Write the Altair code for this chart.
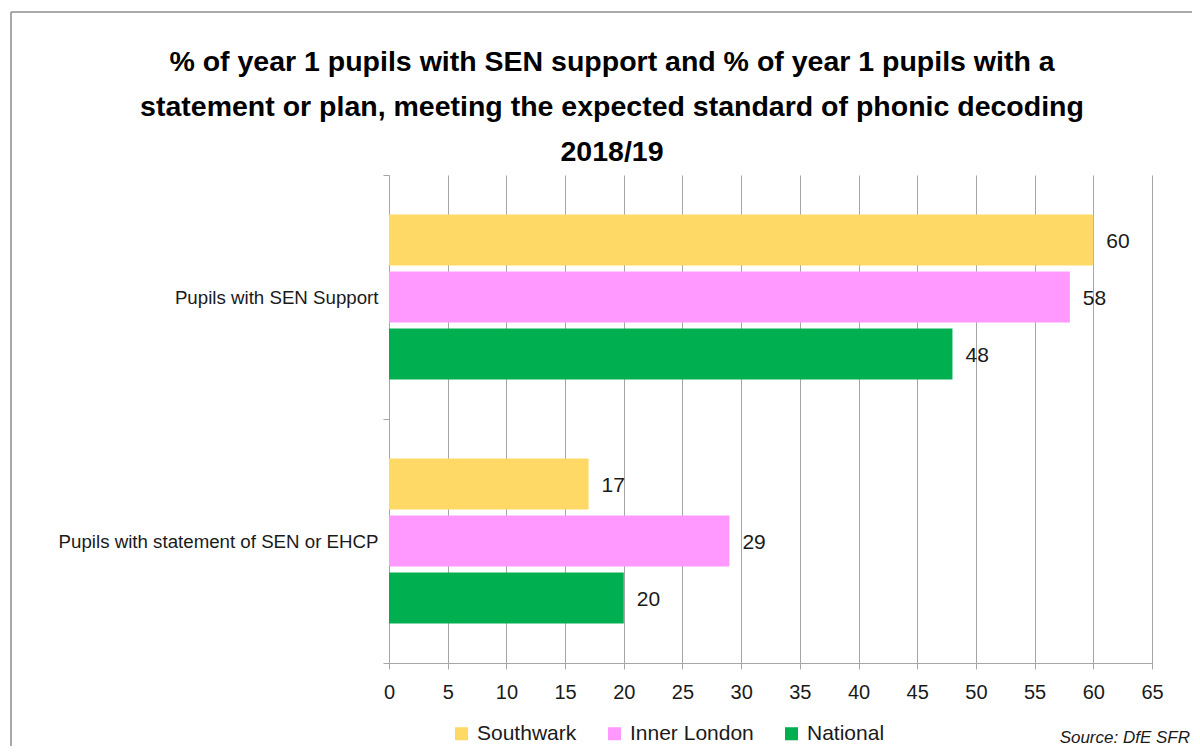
import altair as alt
import pandas as pd

categories = ["Pupils with SEN Support", "Pupils with statement of SEN or EHCP"]
series = ["Southwark", "Inner London", "National"]
southwark = [60, 17]
inner_london = [58, 29]
national = [48, 20]
colors = ["#FFD966", "#FF99FF", "#00B050"]
x_ticks = list(range(0, 70, 5))
title_lines = [
    "% of year 1 pupils with SEN support and % of year 1 pupils with a",
    "statement or plan, meeting the expected standard of phonic decoding",
    "2018/19",
]
source_note = ["Source: DfE SFR"]

rows = []
for i, c in enumerate(categories):
    for s, vals in zip(series, [southwark, inner_london, national]):
        rows.append({"category": c, "series": s, "value": vals[i]})
df = pd.DataFrame(rows)

FONT = "Liberation Sans, Arial, sans-serif"
GRID = "#A6A6A6"
TXT = "#1a1a1a"

y_enc = alt.Y(
    "category:N",
    sort=categories,
    scale=alt.Scale(paddingInner=0, paddingOuter=0),
    axis=alt.Axis(
        title=None, tickBand="extent", tickSize=6, tickColor=GRID, domainColor=GRID,
        labelFontSize=18.7, labelPadding=5, labelColor=TXT, labelFont=FONT, grid=False,
        labelLimit=500,
    ),
)
yoff = alt.YOffset("series:N", sort=series,
                   scale=alt.Scale(paddingInner=0.105, paddingOuter=0.693))
x_enc = alt.X(
    "value:Q",
    scale=alt.Scale(domain=[0, 65], nice=False),
    axis=alt.Axis(
        title=None, values=x_ticks, grid=True, gridColor=GRID, domainColor=GRID,
        tickColor=GRID, tickSize=6, labelFontSize=20, labelPadding=13,
        labelColor=TXT, labelFont=FONT, labelFlush=False,
    ),
)

base = alt.Chart(df)
bars = base.mark_bar().encode(
    y=y_enc, yOffset=yoff, x=x_enc,
    color=alt.Color(
        "series:N", sort=series,
        scale=alt.Scale(domain=series, range=colors),
        legend=alt.Legend(
            title=None, orient="none", legendX=62, legendY=548, direction="horizontal",
            symbolType="square", symbolSize=170, symbolStrokeWidth=0,
            labelFontSize=21, labelFont=FONT, labelColor=TXT, columnPadding=27,
            labelOffset=5,
        ),
    ),
)
labels = base.mark_text(align="left", dx=13, dy=2, fontSize=21, font=FONT, color=TXT).encode(
    y=alt.Y("category:N", sort=categories), yOffset=yoff, x="value:Q",
    text=alt.Text("value:Q"),
)

title = alt.Chart(pd.DataFrame({"t": ["\n".join(title_lines)]})).mark_text(
    align="center", baseline="top", fontSize=28.5, font=FONT, fontWeight="bold",
    color="#000000", lineBreak="\n", lineHeight=45,
).encode(x=alt.value(223), y=alt.value(-127), text="t:N")

src = alt.Chart(pd.DataFrame({"t": source_note})).mark_text(
    align="right", baseline="middle", fontSize=17, font=FONT, fontStyle="italic", color=TXT
).encode(x=alt.value(801), y=alt.value(563), text="t:N")

frame_v = alt.Chart(pd.DataFrame({"t": source_note})).mark_rule(color="#8c8c8c", strokeWidth=1.5).encode(
    x=alt.value(-378), y=alt.value(-163), y2=alt.value(600))
frame_h = alt.Chart(pd.DataFrame({"t": source_note})).mark_rule(color="#8c8c8c", strokeWidth=1.5).encode(
    y=alt.value(-163), x=alt.value(-378), x2=alt.value(820))

chart = alt.layer(frame_v, frame_h, title, bars, labels, src).properties(
    width=763, height=488,
    padding={"left": 381, "top": 167, "right": 40, "bottom": 83},
    autosize=alt.AutoSizeParams(type="none"),
).configure_view(stroke=None)

chart.save("out.html", embed_options={"renderer": "svg", "actions": False})
